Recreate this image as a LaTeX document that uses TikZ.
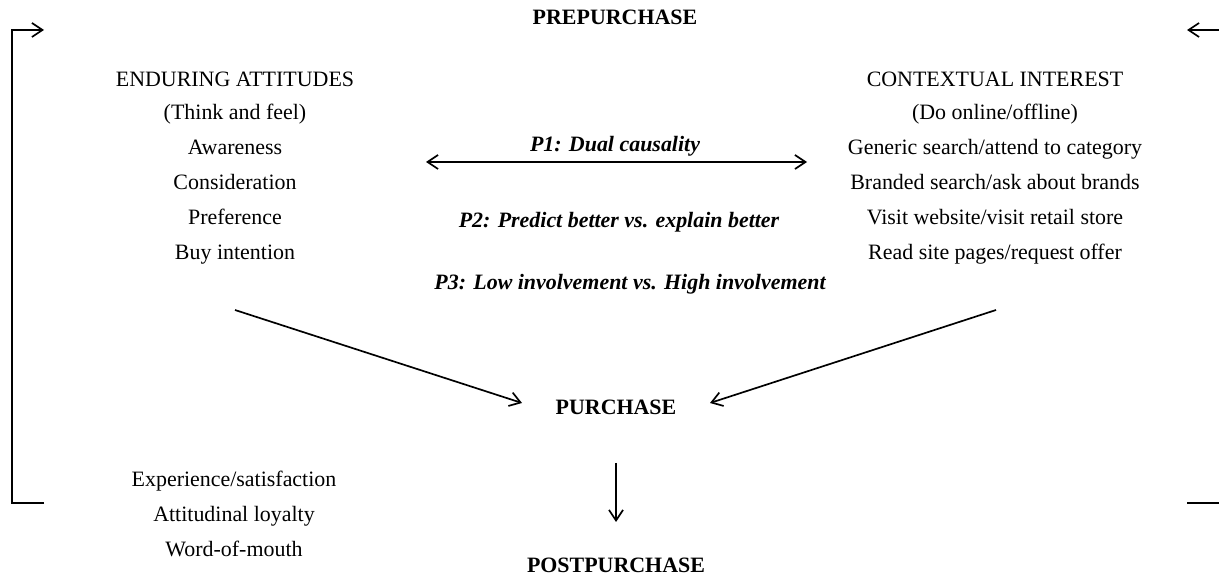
\documentclass[tikz,border=0pt]{standalone}
\usepackage{fontspec}
\setmainfont{Liberation Serif}
\usetikzlibrary{arrows.meta}
\tikzset{
  >={Straight Barb[length=7.5pt,width=10pt]},
  txt/.style={font=\fontsize{15.6}{18}\selectfont, inner sep=1pt, anchor=base},
  head/.style={txt, font=\fontsize{15.6}{18}\selectfont\bfseries},
  prop/.style={txt, font=\fontsize{15.6}{18}\selectfont\bfseries\itshape},
  link/.style={line width=1.2pt},
}
\begin{document}
\begin{tikzpicture}[x=0.025cm, y=-0.025cm]
  \useasboundingbox (0,0) rectangle (1219,576);

  % stages
  \node[head] (pre)  at (615,25)  {PREPURCHASE};
  \node[head] (pur)  at (616,415) {PURCHASE};
  \node[head] (post) at (616,573) {POSTPURCHASE};

  % left column
  \node[txt] (att) at (235,87) {ENDURING ATTITUDES};
  \foreach \y/\t [count=\i] in {120/{(Think and feel)}, 155/Awareness, 190/Consideration,
      225/Preference, 260/{Buy intention}}
    \node[txt] (att\i) at (235,\y) {\t};

  % right column
  \node[txt] (ctx) at (995,87) {CONTEXTUAL INTEREST};
  \foreach \y/\t [count=\i] in {120/{(Do online/offline)}, 155/{Generic search/attend to category},
      190/{Branded search/ask about brands}, 225/{Visit website/visit retail store},
      260/{Read site pages/request offer}}
    \node[txt] (ctx\i) at (995,\y) {\t};

  % propositions
  \node[prop] (p1) at (615,152) {P1: Dual causality};
  \node[prop] (p2) at (619,228) {P2: Predict better vs. explain better};
  \node[prop] (p3) at (630,290) {P3: Low involvement vs. High involvement};
  \coordinate (d1) at (426,162);
  \coordinate (d2) at (807,162);
  \draw[link, <->] (d1) -- (d2);

  % postpurchase items
  \node[txt] (exp) at (234,487) {Experience/satisfaction};
  \node[txt] (loy) at (234,522) {Attitudinal loyalty};
  \node[txt] (wom) at (234,557) {Word-of-mouth};

  % into purchase
  \coordinate (la) at (235,310);
  \coordinate (ra) at (996,310);
  \coordinate (li) at (522,403);
  \coordinate (ri) at (710,403);
  \draw[link, ->] (la) -- (li);
  \draw[link, ->] (ra) -- (ri);
  \coordinate (dt) at (616,463);
  \coordinate (db) at (616,522);
  \draw[link, ->] (dt) -- (db);

  % feedback loop
  \coordinate (lt) at (12,30);
  \coordinate (lb) at (12,503);
  \draw[link, ->] (44,503) -- (lb) -- (lt) -- (44,30);
  \draw[link, ->] (1219,30) -- (1187,30);
  \draw[link] (1187,503) -- (1219,503);
\end{tikzpicture}
\end{document}
